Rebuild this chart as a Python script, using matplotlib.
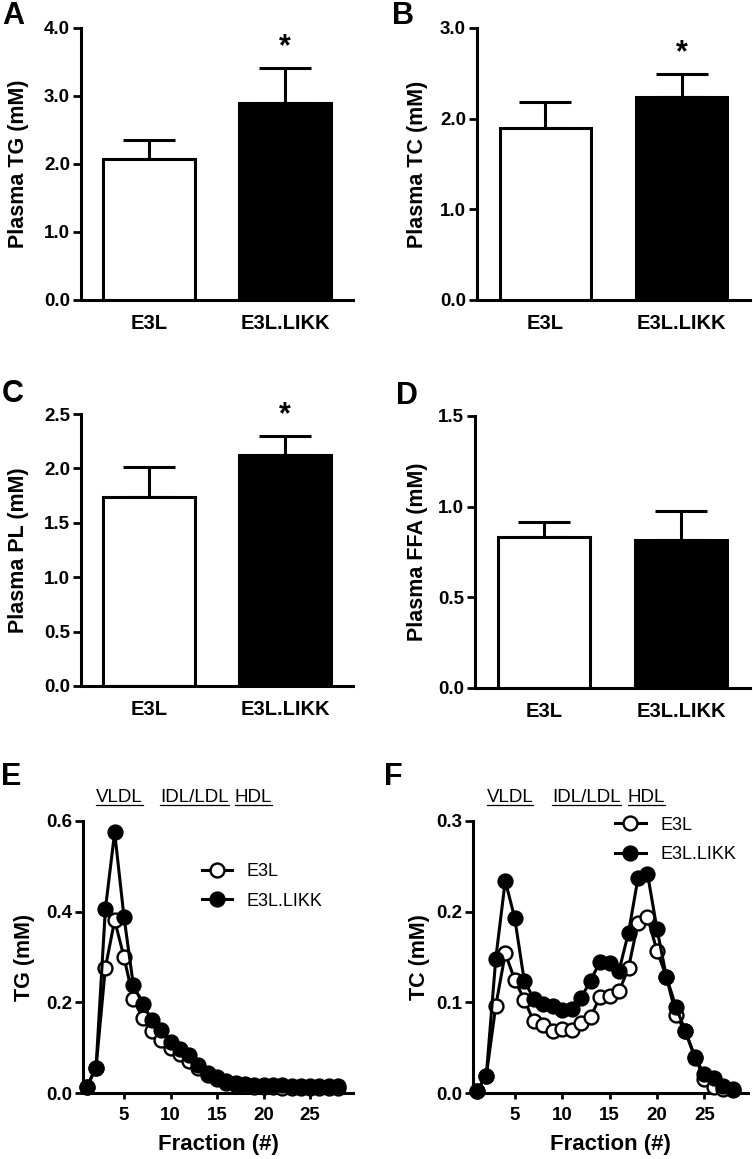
import matplotlib
matplotlib.use("Agg")
import matplotlib.pyplot as plt
from matplotlib.lines import Line2D
import numpy as np

plt.rcParams['font.family'] = ['Liberation Sans', 'DejaVu Sans']

# ---------------- data ----------------
groups = ["E3L", "E3L.LIKK"]
tg_mean = [2.08, 2.90]
tg_sem = [0.28, 0.51]
tc_mean = [1.90, 2.24]
tc_sem = [0.28, 0.25]
pl_mean = [1.74, 2.12]
pl_sem = [0.27, 0.18]
ffa_mean = [0.835, 0.815]
ffa_sem = [0.08, 0.16]
sig_tg = [False, True]
sig_tc = [False, True]
sig_pl = [False, True]
sig_ffa = [False, False]

fractions = list(range(1, 29))
tg_e3l = [0.013, 0.056, 0.276, 0.381, 0.300, 0.208, 0.166, 0.137, 0.118, 0.100,
          0.085, 0.070, 0.055, 0.040, 0.030, 0.022, 0.018, 0.015, 0.014, 0.013,
          0.013, 0.012, 0.012, 0.012, 0.012, 0.011, 0.011, 0.012]
tg_likk = [0.013, 0.056, 0.405, 0.575, 0.389, 0.239, 0.196, 0.162, 0.140, 0.113,
           0.096, 0.083, 0.061, 0.045, 0.035, 0.027, 0.022, 0.020, 0.018, 0.018,
           0.017, 0.017, 0.016, 0.016, 0.016, 0.015, 0.015, 0.016]
tc_e3l = [0.002, 0.019, 0.096, 0.154, 0.125, 0.103, 0.079, 0.075, 0.068, 0.071,
          0.069, 0.077, 0.084, 0.106, 0.107, 0.112, 0.138, 0.188, 0.194, 0.157,
          0.128, 0.086, 0.068, 0.040, 0.015, 0.007, 0.004, 0.003]
tc_likk = [0.002, 0.019, 0.148, 0.234, 0.193, 0.124, 0.104, 0.098, 0.096, 0.091,
           0.093, 0.105, 0.124, 0.145, 0.143, 0.135, 0.177, 0.237, 0.242, 0.181,
           0.128, 0.095, 0.068, 0.039, 0.021, 0.017, 0.008, 0.004]

lipo_labels = ["VLDL", "IDL/LDL", "HDL"]
lipo_pos = [4.5, 12.6, 18.9]

# ---------------- figure ----------------
W, H = 753, 1159
fig = plt.figure(figsize=(W / 100, H / 100), dpi=100)

def add_ax(l, r, t, b):
    return fig.add_axes([l / W, 1 - b / H, (r - l) / W, (b - t) / H])

LW = 2.2

def style(ax):
    for s in ["top", "right"]:
        ax.spines[s].set_visible(False)
    for s in ["left", "bottom"]:
        ax.spines[s].set_linewidth(LW)
    ax.tick_params(axis='y', length=6, width=LW * 0.9, pad=2, labelsize=13.5)
    for lab in ax.get_yticklabels():
        lab.set_fontweight('bold')

def bar_panel(ax, means, sems, sig, ylim, step, ylabel, label_right_px, spine_px, width_px):
    x = np.arange(len(groups))
    ax.errorbar(x, means, yerr=[np.zeros(len(sems)), sems], fmt='none',
                ecolor='black', elinewidth=LW, capsize=18.5, capthick=LW, zorder=1)
    ax.bar(x, means, width=0.67, color=['white', 'black'], edgecolor='black',
           linewidth=LW, zorder=2)
    ax.set_xlim(-0.5, 1.5)
    ax.set_ylim(*ylim)
    ticks = np.arange(ylim[0], ylim[1] + step / 2, step)
    ax.set_yticks(ticks)
    ax.set_yticklabels([f"{t:.1f}" for t in ticks])
    ax.set_xticks(x)
    ax.set_xticklabels(groups, fontsize=14.5, fontweight='bold')
    ax.tick_params(axis='x', length=0, pad=10)
    style(ax)
    ax.set_ylabel(ylabel, fontsize=15.5, fontweight='bold')
    ax.yaxis.set_label_coords((label_right_px - spine_px) / width_px, 0.5)
    for xi, m, s, sg in zip(x, means, sems, sig):
        if sg:
            ax.annotate("*", (xi, m + s), xytext=(0, 15), textcoords='offset points',
                        ha='center', va='center', fontsize=22, fontweight='bold')

axA = add_ax(81, 353, 28, 300)
bar_panel(axA, tg_mean, tg_sem, sig_tg, (0, 4.0), 1.0, "Plasma TG (mM)", 29, 81, 272)
axB = add_ax(477, 750, 28, 300)
bar_panel(axB, tc_mean, tc_sem, sig_tc, (0, 3.0), 1.0, "Plasma TC (mM)", 428, 477, 273)
axC = add_ax(81, 353, 414, 686)
bar_panel(axC, pl_mean, pl_sem, sig_pl, (0, 2.5), 0.5, "Plasma PL (mM)", 29, 81, 272)
axD = add_ax(475, 750, 416, 688)
bar_panel(axD, ffa_mean, ffa_sem, sig_ffa, (0, 1.5), 0.5, "Plasma FFA (mM)", 428, 475, 275)

underline_texts = []

def line_panel(ax, y1, y2, ylim, step, ylabel, label_right_px, spine_px, width_px, leg_anchor):
    kw = dict(color='black', linewidth=LW, markersize=10, markeredgewidth=1.7,
              marker='o', clip_on=False)
    ax.plot(fractions, y1, markerfacecolor='white', markeredgecolor='black',
            label=groups[0], zorder=3, **kw)
    ax.plot(fractions, y2, markerfacecolor='black', markeredgecolor='black',
            label=groups[1], zorder=4, **kw)
    ax.set_xlim(0.6, 29.6)
    ax.set_ylim(*ylim)
    ticks = np.arange(ylim[0], ylim[1] + step / 2, step)
    ax.set_yticks(ticks)
    ax.set_yticklabels([f"{t:.1f}" for t in ticks])
    ax.set_xticks([5, 10, 15, 20, 25])
    ax.tick_params(axis='x', length=4, width=LW * 0.9, pad=6, labelsize=13.5)
    for lab in ax.get_xticklabels():
        lab.set_fontweight('bold')
    style(ax)
    ax.set_ylabel(ylabel, fontsize=15.5, fontweight='bold')
    ax.yaxis.set_label_coords((label_right_px - spine_px) / width_px, 0.5)
    ax.set_xlabel("Fraction (#)", fontsize=16, fontweight='bold')
    ax.xaxis.set_label_coords(0.5, -41 / 272)
    ax.legend(loc='upper left', bbox_to_anchor=leg_anchor, frameon=False,
              fontsize=13, handlelength=1.7, handletextpad=0.8,
              labelspacing=0.7, borderpad=0, borderaxespad=0)
    ytxt = ylim[1] * (1 + 23 / 272)
    for lab, p in zip(lipo_labels, lipo_pos):
        t = ax.text(p, ytxt, lab, ha='center', va='center', fontsize=13.5,
                    clip_on=False)
        underline_texts.append(t)

axE = add_ax(83, 353, 821, 1093)
line_panel(axE, tg_e3l, tg_likk, (0, 0.6), 0.2, "TG (mM)", 35, 83, 270, (0.44, 0.846))
axF = add_ax(473, 748, 821, 1093)
line_panel(axF, tc_e3l, tc_likk, (0, 0.3), 0.1, "TC (mM)", 430, 473, 275, (0.516, 1.016))

# panel letters
for letter, (px, py) in zip("ABCDEF", [(13, 16), (403, 16), (13, 394), (407, 396),
                                       (11, 777), (393, 777)]):
    fig.text(px / W, 1 - py / H, letter, fontsize=22, fontweight='bold',
             ha='center', va='center')

# underline the lipoprotein class labels
fig.canvas.draw()
r = fig.canvas.get_renderer()
for t in underline_texts:
    bb = t.get_window_extent(renderer=r)
    y = bb.y0 + 1.5
    fig.add_artist(Line2D([bb.x0 / W, bb.x1 / W], [y / H, y / H],
                          transform=fig.transFigure, color='black', linewidth=0.9))

fig.savefig("out.png", dpi=100)
